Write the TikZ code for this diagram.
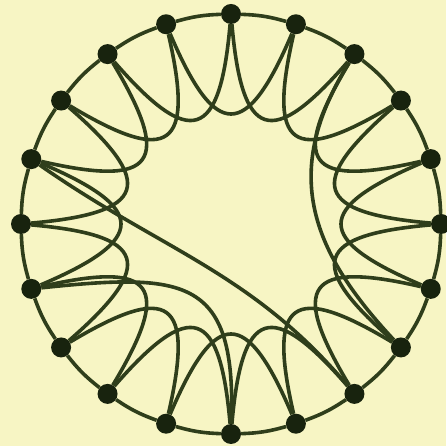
\documentclass[tikz,border=0pt]{standalone}
\usepackage{xcolor}
\usetikzlibrary{calc,backgrounds}
\definecolor{ringbg}{HTML}{F7F5C4}
\definecolor{ringdark}{HTML}{18230E}
\definecolor{ringline}{HTML}{2F3E1B}

\begin{document}
\begin{tikzpicture}[x=1pt, y=1pt,
        vertex/.style={circle, fill=ringdark, minimum size=20pt, inner sep=0pt},
        edge/.style={draw=ringline, line width=3.6pt}]
    \useasboundingbox (0,0) rectangle (446,446);
    \coordinate (c) at (231,222);

    % twenty vertices on the ring, clockwise from the top
    \foreach \k in {0,...,19}{
        \pgfmathsetmacro{\ang}{90-18*\k}
        \node[vertex] (n\k) at ($(c)+(\ang:210)$) {};
    }

    \begin{scope}[on background layer]
        \fill[ringbg] (0,0) rectangle (446,446);
        \foreach \k in {0,...,19}{
            \pgfmathtruncatemacro{\nxt}{mod(\k+1,20)}
            \pgfmathtruncatemacro{\skp}{mod(\k+2,20)}
            \pgfmathsetmacro{\ao}{270-18*\k+5}
            \pgfmathsetmacro{\ai}{270-18*(\k+2)-5}
            \draw[edge] (n\k) to[bend left=7] (n\nxt);
            \draw[edge] (n\k) to[out=\ao, in=\ai, looseness=2.45] (n\skp);
        }
        % long chords
        \draw[edge] (n2) to[out=238, in=133, looseness=1.15] (n7);
        \draw[edge] (n16) to[out=325, in=130, looseness=1] (n8);
        \draw[edge] (n14) to[out=6, in=88, looseness=1.6] (n10);
    \end{scope}
\end{tikzpicture}
\end{document}
